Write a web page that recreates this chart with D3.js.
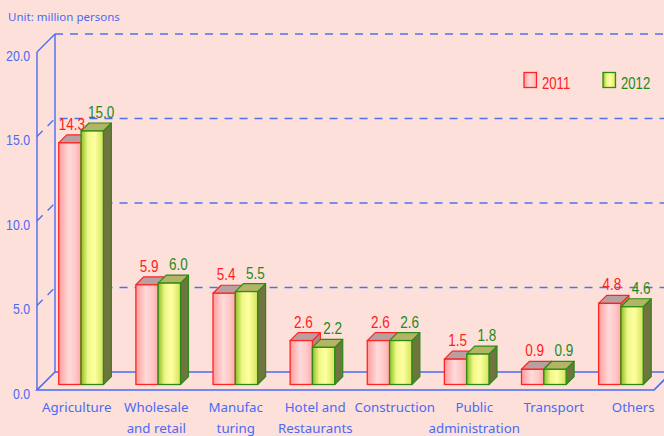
<!DOCTYPE html>
<html>
<head>
<meta charset="utf-8">
<script src="https://cdn.jsdelivr.net/npm/d3@7"></script>
<style>
  body { margin: 0; background: #fde0d9; }
  svg { display: block; }
</style>
</head>
<body>
<div id="chart"></div>
<script>
"use strict";

// data
var categories = ["Agriculture", "Wholesale and retail", "Manufacturing", "Hotel and Restaurants",
                  "Construction", "Public administration", "Transport", "Others"];
var catLines = [["Agriculture"], ["Wholesale", "and retail"], ["Manufac", "turing"], ["Hotel and", "Restaurants"],
                ["Construction"], ["Public", "administration"], ["Transport"], ["Others"]];
var values2011 = [14.3, 5.9, 5.4, 2.6, 2.6, 1.5, 0.9, 4.8];
var values2012 = [15.0, 6.0, 5.5, 2.2, 2.6, 1.8, 0.9, 4.6];
var years = ["2011", "2012"];
var yTicks = [0, 5, 10, 15, 20];

var width = 664, height = 436;
var blue = "#4a6af5", gridBlue = "#5070f2";
var narrowFont = "'Liberation Sans', Arial, sans-serif";

var svg = d3.select("#chart").append("svg")
    .attr("width", width)
    .attr("height", height);

svg.append("rect").attr("width", width).attr("height", height).attr("fill", "#fde0d9");

var defs = svg.append("defs");
function grad(id, stops) {
  var g = defs.append("linearGradient").attr("id", id)
      .attr("x1", "0%").attr("x2", "100%").attr("y1", "0%").attr("y2", "0%");
  stops.forEach(function (s) {
    g.append("stop").attr("offset", s[0]).attr("stop-color", s[1]);
  });
}
grad("gRed", [["0%", "#ff9c9c"], ["45%", "#ffdada"], ["75%", "#ffc8c8"], ["100%", "#ffa8a8"]]);
grad("gGreen", [["0%", "#8fbf22"], ["30%", "#eef888"], ["60%", "#ffffa0"], ["100%", "#d2e45a"]]);

// narrow text: squeeze horizontally
function narrowText(sel, px, py, size, anchor, color) {
  return sel.append("text")
      .attr("transform", "translate(" + px + "," + py + ") scale(0.82,1)")
      .attr("text-anchor", anchor)
      .attr("fill", color)
      .style("font-family", narrowFont)
      .style("font-size", size + "px");
}

var depth = 18, z1 = 5.5, z2 = 13.5;

var x = d3.scaleBand().domain(categories).range([37, 654]);
var xLab = d3.scaleBand().domain(categories).range([37, 673]);
var y = d3.scaleLinear().domain([0, 20]).range([390, 52]);

function P(px, v, z) { return [px + z, y(v) - z]; }
function pts(arr) { return arr.map(function (p) { return p.join(","); }).join(" "); }

var xMin = x.range()[0], xMax = x.range()[1];

// walls
var walls = svg.append("g");
[5, 10, 15].forEach(function (v) {
  var a = P(xMin, v, 0), b = P(xMin, v, depth), c = P(xMax, v, depth);
  walls.append("polyline")
      .attr("points", pts([a, b, c]))
      .attr("fill", "none")
      .attr("stroke", gridBlue)
      .attr("stroke-width", 1.4)
      .attr("stroke-dasharray", "8,7");
});
walls.append("line")
    .attr("x1", P(xMin, 20, 0)[0]).attr("y1", P(xMin, 20, 0)[1])
    .attr("x2", P(xMin, 20, depth)[0]).attr("y2", P(xMin, 20, depth)[1])
    .attr("stroke", blue).attr("stroke-width", 1.3);
walls.append("line")
    .attr("x1", P(xMin, 20, depth)[0]).attr("y1", P(xMin, 20, depth)[1])
    .attr("x2", P(xMax, 20, depth)[0]).attr("y2", P(xMax, 20, depth)[1])
    .attr("stroke", gridBlue).attr("stroke-width", 1.4).attr("stroke-dasharray", "8,7");
[0, depth].forEach(function (z) {
  walls.append("line")
      .attr("x1", P(xMin, 0, z)[0]).attr("y1", P(xMin, 0, z)[1])
      .attr("x2", P(xMin, 20, z)[0]).attr("y2", P(xMin, 20, z)[1])
      .attr("stroke", blue).attr("stroke-width", 1.4);
});
walls.append("polyline")
    .attr("points", pts([P(xMin, 0, depth), P(xMax, 0, depth)]))
    .attr("fill", "none").attr("stroke", blue).attr("stroke-width", 1.6);
walls.append("polyline")
    .attr("points", pts([P(xMin, 0, depth), P(xMin, 0, 0), P(xMax, 0, 0), P(xMax, 0, depth)]))
    .attr("fill", "none").attr("stroke", blue).attr("stroke-width", 1.6);

// y labels
var yl = svg.append("g");
yTicks.forEach(function (d) {
  narrowText(yl, 30, y(d) + 8.5, 15, "end", blue)
      .text(d3.format(".1f")(d));
});

svg.append("text")
    .attr("x", 8).attr("y", 21)
    .attr("fill", blue)
    .style("font-family", "'Noto Sans', sans-serif")
    .style("font-size", "11.5px")
    .text("Unit: million persons");

// bars
var bw = 22.3;
var styles = [
  { fill: "url(#gRed)", stroke: "#ff2424", top: "#b9a0a0", side: "#c08080", label: "#ff2020" },
  { fill: "url(#gGreen)", stroke: "#2a8c14", top: "#b4b466", side: "#6f7440", label: "#1f8a1a" }
];
var series = [values2011, values2012];

var bars = svg.append("g");
categories.forEach(function (cat, i) {
  var c = x(cat) + x.bandwidth() / 2;
  series.forEach(function (vals, s) {
    var v = vals[i], st = styles[s];
    var xl = c - bw + s * bw, xr = xl + bw;
    var g = bars.append("g");
    g.append("polygon")
        .attr("points", pts([P(xr, v, z1), P(xr, 0, z1), P(xr, 0, z2), P(xr, v, z2)]))
        .attr("fill", st.side).attr("stroke", st.stroke).attr("stroke-width", 1.2)
        .attr("stroke-linejoin", "round");
    g.append("polygon")
        .attr("points", pts([P(xl, v, z1), P(xr, v, z1), P(xr, v, z2), P(xl, v, z2)]))
        .attr("fill", st.top).attr("stroke", st.stroke).attr("stroke-width", 1.2)
        .attr("stroke-linejoin", "round");
    var f = P(xl, v, z1), b0 = P(xr, 0, z1);
    g.append("rect")
        .attr("x", f[0]).attr("y", f[1])
        .attr("width", b0[0] - f[0]).attr("height", b0[1] - f[1])
        .attr("fill", st.fill).attr("stroke", st.stroke).attr("stroke-width", 1.3);
  });
});

// value labels
var labels = svg.append("g");
categories.forEach(function (cat, i) {
  var c = x(cat) + x.bandwidth() / 2;
  series.forEach(function (vals, s) {
    var v = vals[i];
    var cx = c - bw / 2 + s * bw + z1 + (s === 0 ? 2 : 9);
    narrowText(labels, cx, P(0, v, z2)[1] - 5, 16.5, "middle", styles[s].label)
        .text(d3.format(".1f")(v));
  });
});

// x labels
var xt = svg.append("g").selectAll("text")
    .data(categories)
    .enter().append("text")
    .attr("x", function (d) { return xLab(d) + xLab.bandwidth() / 2; })
    .attr("y", 412)
    .attr("text-anchor", "middle")
    .attr("fill", blue)
    .style("font-family", "'Noto Sans', sans-serif")
    .style("font-size", "13.3px");
xt.each(function (d, i) {
  var t = d3.select(this);
  catLines[i].forEach(function (line, k) {
    t.append("tspan")
        .attr("x", xLab(d) + xLab.bandwidth() / 2)
        .attr("dy", k === 0 ? 0 : 21)
        .text(line);
  });
});

// legend
var legend = svg.append("g");
var legX = [524, 603];
years.forEach(function (yr, s) {
  legend.append("rect")
      .attr("x", legX[s]).attr("y", 72.5)
      .attr("width", 12.5).attr("height", 15)
      .attr("fill", styles[s].fill)
      .attr("stroke", styles[s].stroke).attr("stroke-width", 1.3);
  narrowText(legend, legX[s] + 18, 89, 16, "start", styles[s].label)
      .text(yr);
});
</script>
</body>
</html>
